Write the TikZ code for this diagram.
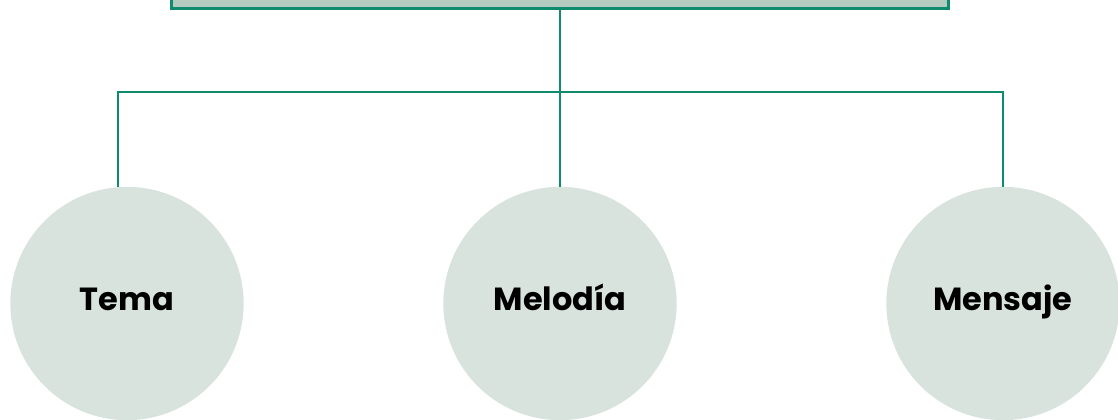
\documentclass[tikz,border=0pt]{standalone}
\usepackage{fontspec}
\setmainfont{Poppins}
\definecolor{teal}{HTML}{0E8A6E}
\definecolor{boxfill}{HTML}{B3CCBF}
\definecolor{circfill}{HTML}{D9E3DE}
\begin{document}
\begin{tikzpicture}[x=0.75pt,y=-0.75pt,
  conn/.style={draw=teal,line width=2.2pt},
  topic/.style={circle,fill=circfill,minimum size=175pt,inner sep=0pt,text height=14pt,text depth=4.2pt,font=\fontsize{24}{28}\selectfont\bfseries}]
\useasboundingbox (0,0) rectangle (1118,419);
\begin{scope}
\clip (0,0) rectangle (1118,419);
\node[draw=teal,fill=boxfill,line width=2.2pt,minimum width=777*0.75pt,minimum height=60pt,inner sep=0pt,anchor=south] (top) at (560,10) {};
\node[topic] (tema) at (127,303.5) {Tema};
\node[topic] (melodia) at (560,303.5) {Melodía};
\node[topic] (mensaje) at (1003,303.5) {Mensaje};
\coordinate (hl) at (118,92);
\coordinate (hr) at (1003,92);
\draw[conn] (top.south) -- (melodia.north);
\draw[conn] (tema.north -| hl) -- (hl) -- (hr) -- (mensaje.north);
\end{scope}
\end{tikzpicture}
\end{document}
